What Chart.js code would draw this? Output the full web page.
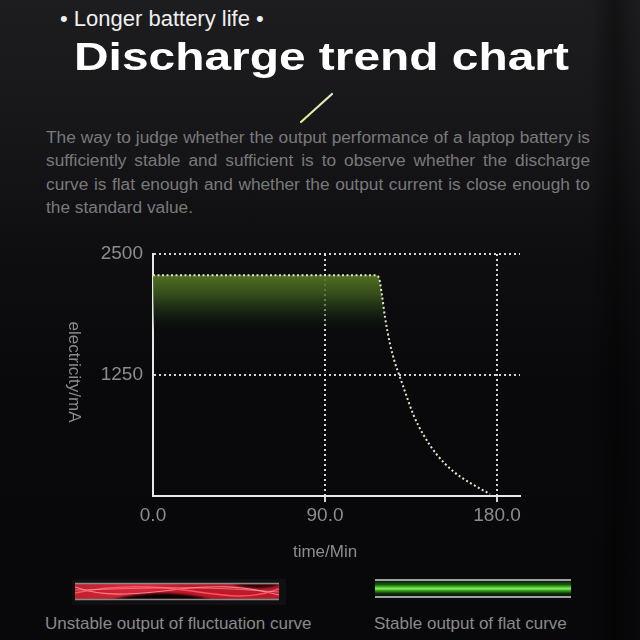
<!DOCTYPE html>
<html>
<head>
<meta charset="utf-8">
<script src="https://cdn.jsdelivr.net/npm/chart.js@4.4.1/dist/chart.umd.min.js"></script>
<style>
  html, body { margin: 0; padding: 0; }
  body {
    width: 640px; height: 640px; overflow: hidden; position: relative;
    background:
      linear-gradient(90deg, rgba(0,0,0,0) 0%, rgba(0,0,0,0) 92%, rgba(0,0,0,0.35) 96%, rgba(0,0,0,0) 100%),
      linear-gradient(180deg, #1d1d1f 0%, #161618 22%, #0e0e10 40%, #09090b 60%, #08080a 100%);
    font-family: "Liberation Sans", Arial, sans-serif;
  }
  .kicker { position: absolute; left: 60px; top: 4px; font-size: 22px; line-height: 30px; color: #f0f0f0; white-space: nowrap; }
  .title { position: absolute; left: 74px; top: 34px; font-size: 38px; line-height: 46px; font-weight: bold; color: #ffffff;
           white-space: nowrap; transform: scaleX(1.26); transform-origin: left top; }
  .slash { position: absolute; left: 0; top: 0; }
  .para { position: absolute; left: 46px; top: 126px; width: 544px; font-size: 17.3px; line-height: 23.4px; color: #79797b; }
  .para div { text-align: justify; text-align-last: justify; white-space: nowrap; }
  .para div.last { text-align-last: left; }
  #wrap { position: absolute; left: 0; top: 230px; width: 640px; height: 340px; }
  .legend-text { position: absolute; top: 613px; font-size: 17px; line-height: 22px; color: #8a8a8a; white-space: nowrap; }
  .bar { position: absolute; }
</style>
</head>
<body>
<div class="kicker">• Longer battery life •</div>
<div class="title">Discharge trend chart</div>
<svg class="slash" width="640" height="140">
  <defs>
    <linearGradient id="sl" x1="0" y1="1" x2="1" y2="0">
      <stop offset="0" stop-color="#e6e88a"/>
      <stop offset="1" stop-color="#d8f0c8"/>
    </linearGradient>
  </defs>
  <line x1="301" y1="122" x2="332" y2="94" stroke="url(#sl)" stroke-width="2.2" stroke-linecap="round"/>
</svg>
<div class="para">
  <div>The way to judge whether the output performance of a laptop battery is</div>
  <div>sufficiently stable and sufficient is to observe whether the discharge</div>
  <div>curve is flat enough and whether the output current is close enough to</div>
  <div class="last">the standard value.</div>
</div>

<div id="wrap"><canvas id="chart"></canvas></div>

<svg class="bar" style="left:72px;top:579px" width="214" height="26">
  <defs>
    <filter id="glow" x="-10%" y="-50%" width="120%" height="200%"><feGaussianBlur stdDeviation="1.2"/></filter>
    <linearGradient id="redbg" x1="0" y1="0" x2="1" y2="0">
      <stop offset="0" stop-color="#c0202c"/>
      <stop offset="0.35" stop-color="#d8283a"/>
      <stop offset="0.55" stop-color="#c01828"/>
      <stop offset="1" stop-color="#b81c2a"/>
    </linearGradient>
  </defs>
  <rect x="0" y="0" width="214" height="26" fill="#101012"/>
  <rect x="3" y="5" width="204" height="16" fill="url(#redbg)"/>
  <path d="M3,21 C40,21 60,19 90,19 C120,19 135,21 207,21 Z" fill="#1a0406" filter="url(#glow)"/>
  <path d="M40,21 C70,12 110,12 140,21 Z" fill="#080202" filter="url(#glow)"/>
  <path d="M160,5 C175,10 195,10 207,6 L207,5 Z" fill="#200406" filter="url(#glow)"/>
  <path d="M3,8 C30,18 60,16 100,11 S170,6 207,16" stroke="#ff8a94" stroke-width="1.2" fill="none" opacity="0.9"/>
  <path d="M3,14 C40,6 80,6 120,12 S180,20 207,10" stroke="#ff5a68" stroke-width="1.4" fill="none" opacity="0.9"/>
  <path d="M3,11 C50,10 90,8 130,9 S190,12 207,13" stroke="#ffb0b8" stroke-width="0.8" fill="none" opacity="0.7"/>
  <line x1="3" y1="4.5" x2="207" y2="4.5" stroke="#8a8a8c" stroke-width="1.5"/>
  <line x1="3" y1="20.5" x2="207" y2="20.5" stroke="#8a8a8c" stroke-width="1.5"/>
</svg>
<svg class="bar" style="left:374px;top:578px" width="198" height="21">
  <defs>
    <linearGradient id="gr" x1="0" y1="0" x2="0" y2="1">
      <stop offset="0" stop-color="#061006"/>
      <stop offset="0.28" stop-color="#1a5a10"/>
      <stop offset="0.45" stop-color="#5cd83a"/>
      <stop offset="0.52" stop-color="#8cf060"/>
      <stop offset="0.62" stop-color="#3aa020"/>
      <stop offset="0.8" stop-color="#0c2a08"/>
      <stop offset="1" stop-color="#061006"/>
    </linearGradient>
  </defs>
  <rect x="1" y="2" width="196" height="17" fill="url(#gr)"/>
  <line x1="1" y1="2" x2="197" y2="2" stroke="#a0a0a2" stroke-width="2"/>
  <line x1="1" y1="19" x2="197" y2="19" stroke="#a0a0a2" stroke-width="2"/>
</svg>
<div class="legend-text" style="left:45px">Unstable output of fluctuation curve</div>
<div class="legend-text" style="left:374px">Stable output of flat curve</div>

<script>
// discharge curve
const timeMin = [0, 45, 90, 116.5, 118.3, 119.7, 121.4, 124, 126.6, 128.9, 131.9, 136.2, 141.4, 148.4, 157.1, 165.9, 176.3];
const currentMA = [2280, 2280, 2280, 2280, 2250, 2085, 1844, 1570, 1375, 1245, 1075, 840, 635, 430, 255, 135, 20];
const xTicks = [0, 90, 180];
const yTicks = [1250, 2500];
const xTitle = "time/Min";
const yTitle = "electricity/mA";

const tickGray = "#8c8c8c";
const fontFamily = '"Liberation Sans", Arial, sans-serif';

// axis titles: y title reads top to bottom, so draw them by hand
const axisTitles = {
  id: "axisTitles",
  afterDraw(chart) {
    const { ctx, scales: { x, y }, chartArea } = chart;
    ctx.save();
    ctx.fillStyle = tickGray;
    ctx.font = "17px " + fontFamily;
    ctx.textAlign = "center";
    ctx.textBaseline = "middle";
    ctx.fillText(xTitle, x.getPixelForValue(xTicks[1]), chartArea.bottom + 56);
    ctx.translate(73.5, y.getPixelForValue(yTicks[0]) - 3);
    ctx.rotate(Math.PI / 2);
    ctx.fillText(yTitle, 0, 0);
    ctx.restore();
  }
};

new Chart(document.getElementById("chart"), {
  type: "line",
  data: {
    datasets: [{
      data: timeMin.map((t, i) => ({ x: t, y: currentMA[i] })),
      borderColor: "#e2e9c6",
      borderWidth: 2,
      borderDash: [2, 2.5],
      pointRadius: 0,
      cubicInterpolationMode: "monotone",
      fill: "origin",
      backgroundColor(ctx) {
        const chart = ctx.chart;
        if (!chart.chartArea) return "transparent";
        const ys = chart.scales.y;
        const top = ys.getPixelForValue(currentMA[0]);
        const g = chart.ctx.createLinearGradient(0, top, 0, ys.getPixelForValue(1700));
        g.addColorStop(0, "rgba(86,116,36,0.95)");
        g.addColorStop(0.35, "rgba(62,92,30,0.8)");
        g.addColorStop(0.7, "rgba(34,56,24,0.45)");
        g.addColorStop(1, "rgba(12,20,12,0)");
        return g;
      }
    }]
  },
  options: {
    responsive: true,
    maintainAspectRatio: false,
    animation: false,
    layout: { padding: { left: 0, top: 24, right: 120, bottom: 0 } },
    plugins: { legend: { display: false }, tooltip: { enabled: false } },
    scales: {
      x: {
        type: "linear",
        min: 0,
        max: 192,
        afterBuildTicks(scale) { scale.ticks = xTicks.map(v => ({ value: v })); },
        afterFit(scale) { scale.height = 74; },
        grid: {
          color: c => (c.tick && c.tick.value === 0) ? "transparent" : "rgba(235,235,235,0.9)",
          lineWidth: 2,
          tickLength: 6
        },
        border: { display: true, color: "#e8e8e8", width: 2, dash: [2, 3] },
        ticks: {
          color: tickGray,
          font: { size: 19, family: fontFamily },
          padding: 2,
          maxRotation: 0,
          callback: v => Number(v).toFixed(1)
        }
      },
      y: {
        min: 0,
        max: 2500,
        afterBuildTicks(scale) { scale.ticks = yTicks.map(v => ({ value: v })); },
        afterFit(scale) { scale.width = 153; },
        grid: { color: "rgba(235,235,235,0.9)", lineWidth: 2, drawTicks: false },
        border: { display: true, color: "#e8e8e8", width: 2, dash: [2, 3] },
        ticks: {
          color: tickGray,
          font: { size: 19, family: fontFamily },
          padding: 10,
          callback: v => String(v)
        }
      }
    }
  },
  plugins: [axisTitles]
});
</script>
</body>
</html>
